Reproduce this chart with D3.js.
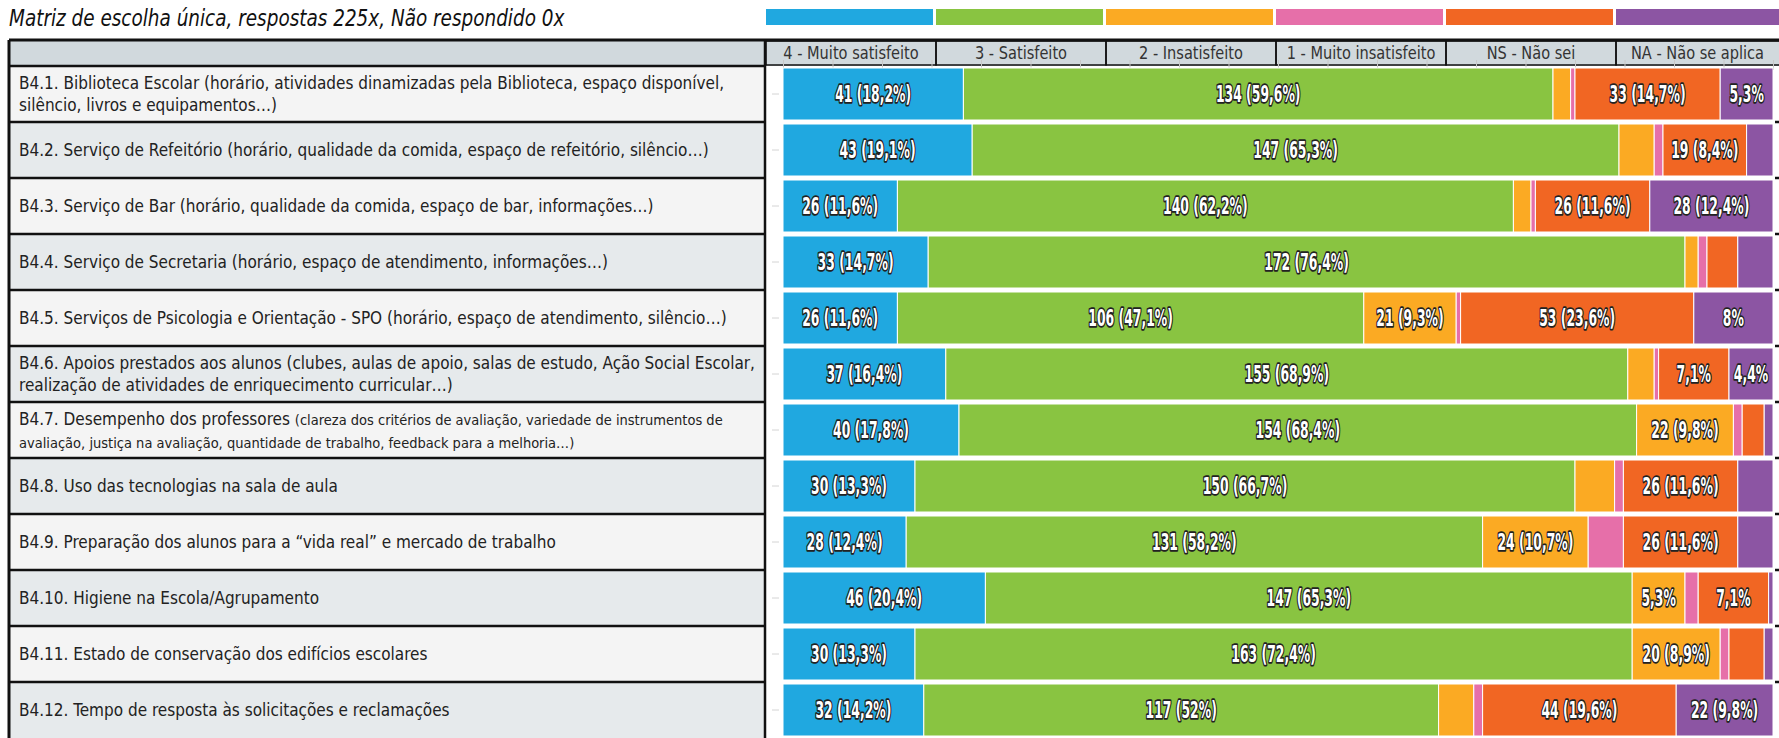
<!DOCTYPE html>
<html>
<head>
  <meta charset="utf-8">
  <title>Matriz de escolha única</title>
  <script src="https://d3js.org/d3.v7.min.js"></script>
  <style>
    body { margin: 0; background: #fff; }
    .narrow { font-family: "Liberation Sans Narrow", "DejaVu Sans Condensed", "DejaVu Sans", sans-serif; }
  </style>
</head>
<body>
  <div id="chart"></div>

  <script>
    // answer options (stack order) and their colours
    var categories = ["4 - Muito satisfeito", "3 - Satisfeito", "2 - Insatisfeito",
                      "1 - Muito insatisfeito", "NS - Não sei", "NA - Não se aplica"];
    var colors = ["#20a8e0", "#89c441", "#fbaa23", "#e66fa9", "#f16623", "#8c55a3"];

    // question labels (one entry per line)
    var rowLabels = [
      ["B4.1. Biblioteca Escolar (horário, atividades dinamizadas pela Biblioteca, espaço disponível,", "silêncio, livros e equipamentos…)"],
      ["B4.2. Serviço de Refeitório (horário, qualidade da comida, espaço de refeitório, silêncio…)"],
      ["B4.3. Serviço de Bar (horário, qualidade da comida, espaço de bar, informações…)"],
      ["B4.4. Serviço de Secretaria (horário, espaço de atendimento, informações…)"],
      ["B4.5. Serviços de Psicologia e Orientação - SPO (horário, espaço de atendimento, silêncio…)"],
      ["B4.6. Apoios prestados aos alunos (clubes, aulas de apoio, salas de estudo, Ação Social Escolar,", "realização de atividades de enriquecimento curricular…)"],
      ["B4.7. Desempenho dos professores"],
      ["B4.8. Uso das tecnologias na sala de aula"],
      ["B4.9. Preparação dos alunos para a “vida real” e mercado de trabalho"],
      ["B4.10. Higiene na Escola/Agrupamento"],
      ["B4.11. Estado de conservação dos edifícios escolares"],
      ["B4.12. Tempo de resposta às solicitações e reclamações"]
    ];
    // extra notes drawn in a smaller type, by row index
    var rowNotes = {
      6: ["(clareza dos critérios de avaliação, variedade de instrumentos de",
          "avaliação, justiça na avaliação, quantidade de trabalho, feedback para a melhoria…)"]
    };

    // counts per answer, one value per question (225 answers each)
    var muitoSatisfeito    = [41, 43, 26, 33, 26, 37, 40, 30, 28, 46, 30, 32];
    var satisfeito         = [134, 147, 140, 172, 106, 155, 154, 150, 131, 147, 163, 117];
    var insatisfeito       = [4, 8, 4, 3, 21, 6, 22, 9, 24, 12, 20, 8];
    var muitoInsatisfeito  = [1, 2, 1, 2, 1, 1, 2, 2, 8, 3, 2, 2];
    var naoSei             = [33, 19, 26, 7, 53, 16, 5, 26, 26, 16, 8, 44];
    var naoSeAplica        = [12, 6, 28, 8, 18, 10, 2, 8, 8, 1, 2, 22];
    var totalRespostas = 225;

    var series = [muitoSatisfeito, satisfeito, insatisfeito, muitoInsatisfeito, naoSei, naoSeAplica];
    var table = rowLabels.map(function(l, i) {
      var row = { idx: i };
      categories.forEach(function(c, k) { row[c] = series[k][i]; });
      return row;
    });

    var W = 1779, H = 738;
    var tableLeft = 9, colDivider = 765;
    var headerTop = 40, headerBottom = 66;

    var svg = d3.select("#chart").append("svg")
      .attr("width", W)
      .attr("height", H);

    var x = d3.scaleLinear().domain([0, totalRespostas]).range([783, 1773]);
    var xPct = d3.scaleLinear().domain([0, 100]).range(x.range());
    var y = d3.scaleBand().domain(d3.range(rowLabels.length)).range([headerBottom, H]);
    var col = d3.scaleBand().domain(categories).range([766, 766 + 6 * 170]);
    var color = d3.scaleOrdinal().domain(categories).range(colors);

    // title (squeezed a bit to look like the condensed original)
    svg.append("text")
      .attr("class", "narrow")
      .attr("transform", "translate(9,26) scale(0.89,1)")
      .attr("font-size", 23)
      .attr("font-style", "italic")
      .attr("fill", "#111")
      .text("Matriz de escolha única, respostas 225x, Não respondido 0x");

    // legend swatches
    svg.append("g").selectAll("rect")
      .data(categories)
      .join("rect")
      .attr("x", function(d) { return col(d); })
      .attr("y", 9)
      .attr("width", col.bandwidth() - 3)
      .attr("height", 16)
      .attr("fill", function(d) { return color(d); });

    // header band
    svg.append("rect")
      .attr("x", tableLeft).attr("y", headerTop)
      .attr("width", W - tableLeft).attr("height", headerBottom - headerTop)
      .attr("fill", "#d1d9dd");

    var head = svg.append("g");
    head.selectAll("rect")
      .data(categories)
      .join("rect")
      .attr("x", function(d) { return col(d); })
      .attr("y", headerTop + 1)
      .attr("width", col.bandwidth())
      .attr("height", headerBottom - headerTop - 2)
      .attr("fill", "none")
      .attr("stroke", "#111")
      .attr("stroke-width", 1.5);
    head.selectAll("text")
      .data(categories)
      .join("text")
      .attr("class", "narrow")
      .attr("transform", function(d) {
        var cx = Math.min(col(d) + col.bandwidth() / 2, (col(d) + W) / 2);
        return "translate(" + cx + "," + ((headerTop + headerBottom) / 2 + 6) + ") scale(0.9,1)";
      })
      .attr("text-anchor", "middle")
      .attr("font-size", 18)
      .attr("fill", "#333")
      .text(function(d) { return d; });

    // label column backgrounds
    svg.append("g").selectAll("rect")
      .data(rowLabels)
      .join("rect")
      .attr("x", tableLeft)
      .attr("y", function(d, i) { return y(i); })
      .attr("width", colDivider - tableLeft)
      .attr("height", y.bandwidth())
      .attr("fill", function(d, i) { return i % 2 ? "#e6eaec" : "#f4f4f4"; });

    // label texts
    var labels = svg.append("g").attr("class", "narrow").attr("fill", "#222");
    rowLabels.forEach(function(lines, i) {
      var cy = y(i) + y.bandwidth() / 2;
      var note = rowNotes[i];
      var n = lines.length;
      var t = labels.append("text").attr("x", 19).attr("font-size", 17);
      if (note) {
        t.attr("y", cy - 5)
          .append("tspan").text(lines[0] + "  ");
        t.append("tspan").attr("font-size", 14.5).text(note[0]);
        labels.append("text")
          .attr("x", 19).attr("y", cy + 18)
          .attr("font-size", 14.5)
          .text(note[1]);
      } else {
        lines.forEach(function(line, j) {
          t.append("tspan")
            .attr("x", 19)
            .attr("y", cy + 6 + (j - (n - 1) / 2) * 22)
            .text(line);
        });
      }
    });

    // table lines
    var grid = svg.append("g").attr("stroke", "#111");
    grid.selectAll("line.row")
      .data(d3.range(rowLabels.length))
      .join("line")
      .attr("x1", tableLeft).attr("x2", colDivider)
      .attr("y1", function(i) { return y(i); })
      .attr("y2", function(i) { return y(i); })
      .attr("stroke-width", 2.5);
    grid.append("line")
      .attr("x1", tableLeft).attr("x2", W)
      .attr("y1", headerTop).attr("y2", headerTop)
      .attr("stroke-width", 3);
    grid.append("line")
      .attr("x1", tableLeft).attr("x2", tableLeft)
      .attr("y1", headerTop).attr("y2", H)
      .attr("stroke-width", 3);
    grid.append("line")
      .attr("x1", colDivider).attr("x2", colDivider)
      .attr("y1", headerTop).attr("y2", H)
      .attr("stroke-width", 2.5);
    grid.selectAll("line.edge")
      .data(d3.range(1, rowLabels.length))
      .join("line")
      .attr("x1", W - 4).attr("x2", W)
      .attr("y1", function(i) { return y(i); })
      .attr("y2", function(i) { return y(i); })
      .attr("stroke-width", 2.5);

    // light ticks: 5% steps under the header and one per row
    svg.append("g")
      .attr("transform", "translate(0," + (headerBottom - 6) + ")")
      .call(d3.axisBottom(xPct).tickValues(d3.range(0, 101, 5)).tickSize(10).tickFormat(""))
      .call(function(g) {
        g.select(".domain").remove();
        g.selectAll("line").attr("stroke", "#c8c8c8");
      });
    svg.append("g")
      .attr("transform", "translate(" + (x(0) - 4) + ",0)")
      .call(d3.axisLeft(y).tickSize(7).tickFormat(""))
      .call(function(g) {
        g.select(".domain").remove();
        g.selectAll("line").attr("stroke", "#d4d4d4");
      });

    // stacked bars
    var stacked = d3.stack().keys(categories)(table);
    var pad = 2;

    var layers = svg.append("g").selectAll("g")
      .data(stacked)
      .join("g")
      .attr("fill", function(d) { return color(d.key); });

    layers.selectAll("rect")
      .data(function(d) { return d; })
      .join("rect")
      .attr("x", function(d) { return x(d[0]); })
      .attr("y", function(d) { return y(d.data.idx) + pad; })
      .attr("width", function(d) { return x(d[1]) - x(d[0]); })
      .attr("height", y.bandwidth() - 2 * pad)
      .attr("stroke", "#fff")
      .attr("stroke-width", 1);

    function pct(v) {
      var p = Math.round(v / totalRespostas * 1000) / 10;
      return String(p).replace(".", ",") + "%";
    }

    layers.selectAll("text")
      .data(function(d) { return d; })
      .join("text")
      .attr("class", "narrow")
      .attr("transform", function(d) {
        var cx = (x(d[0]) + x(d[1])) / 2;
        var cy = y(d.data.idx) + y.bandwidth() / 2 + 8;
        return "translate(" + cx + "," + cy + ") scale(0.6,1)";
      })
      .attr("text-anchor", "middle")
      .attr("font-size", 23)
      .attr("font-weight", "bold")
      .attr("fill", "#fff")
      .attr("stroke", "#222")
      .attr("stroke-width", 3.5)
      .attr("stroke-linejoin", "round")
      .attr("paint-order", "stroke")
      .text(function(d) {
        var v = d[1] - d[0], w = x(d[1]) - x(d[0]);
        if (w > 81) return v + " (" + pct(v) + ")";
        if (w > 42) return pct(v);
        return "";
      });
  </script>
</body>
</html>
